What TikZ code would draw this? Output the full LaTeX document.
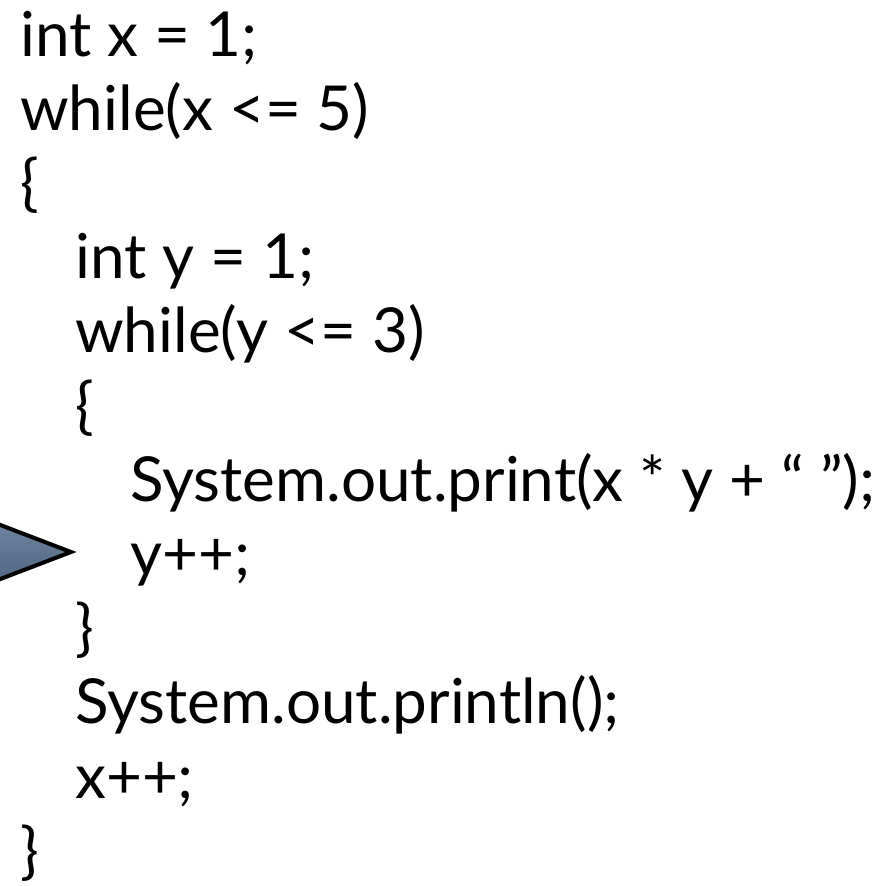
\documentclass[tikz,border=0pt]{standalone}
\usepackage{fontspec}
\setmainfont{Lato}
\definecolor{arrowtop}{HTML}{6E849E}
\definecolor{arrowbot}{HTML}{4F6784}
\begin{document}
\begin{tikzpicture}[x=1pt,y=1pt,
  code/.style={anchor=base west,inner sep=0pt,font=\fontsize{62}{62}\selectfont}]
\useasboundingbox (0,0) rectangle (877,-886);
\clip (0,0) rectangle (877,-886);
\def\ls{74.2}
\node[code] (l0) at (20,-56) {int x = 1;};
\node[code] (l1) at (20,{-56-1*\ls}) {while(x <= 5)};
\node[code] (l2) at (20,{-56-2*\ls}) {\{};
\node[code] (l3) at (75,{-56-3*\ls}) {int y = 1;};
\node[code] (l4) at (75,{-56-4*\ls}) {while(y <= 3)};
\node[code] (l5) at (75,{-56-5*\ls}) {\{};
\node[code] (l6) at (130,{-56-6*\ls}) {System.out.print(x * y + “ ”);};
\node[code] (l7) at (130,{-56-7*\ls}) {y++;};
\node[code] (l8) at (75,{-56-8*\ls}) {\}};
\node[code] (l9) at (75,{-56-9*\ls}) {System.out.println();};
\node[code] (l10) at (75,{-56-10*\ls}) {x++;};
\node[code] (l11) at (20,{-56-11*\ls}) {\}};
\coordinate (ta) at (-10,-521);
\coordinate (tip) at (71,-552);
\coordinate (tb) at (-10,-583);
\draw[line width=4pt,line join=miter,top color=arrowtop,bottom color=arrowbot] (ta) -- (tip) -- (tb) -- cycle;
\end{tikzpicture}
\end{document}
